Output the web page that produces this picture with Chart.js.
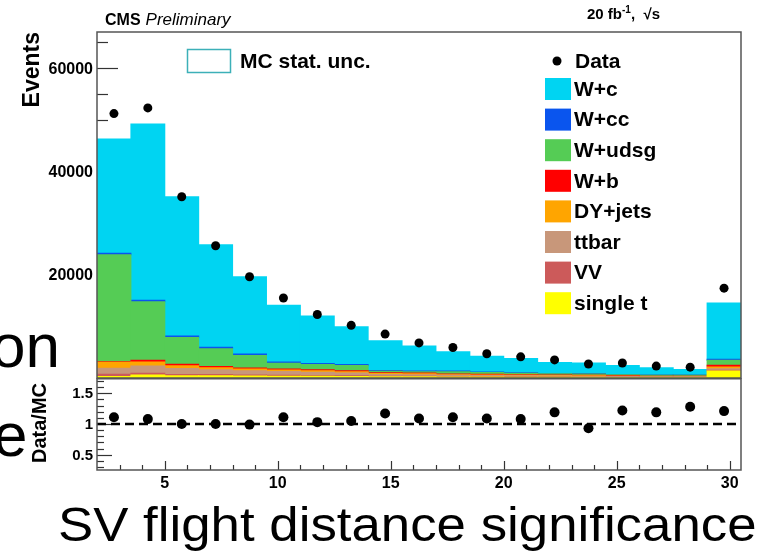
<!DOCTYPE html>
<html>
<head>
<meta charset="utf-8">
<script src="https://cdn.jsdelivr.net/npm/chart.js@4.4.1/dist/chart.umd.min.js"></script>
<style>
  body { margin: 0; background: #fff; }
  #wrap { position: relative; width: 770px; height: 555px; overflow: hidden; font-family: "Liberation Sans", Arial, sans-serif; }
  canvas { position: absolute; left: 0; }
  .slide { position: absolute; color: #000; white-space: nowrap; line-height: 1; transform-origin: 0 0; }
</style>
</head>
<body>
<div id="wrap">
  <canvas id="top" width="770" height="379" style="top:0"></canvas>
  <canvas id="ratio" width="770" height="177" style="top:378px"></canvas>
  <div class="slide" style="left:-9px; top:315px; font-size:62px">on</div>
  <div class="slide" style="left:-7px; top:404px; font-size:62px">e</div>
  <div class="slide" style="left:58px; top:501px; font-size:48px; transform:scaleX(1.1)">SV flight distance significance</div>
</div>
<script>
// bins of 1.5 from 2 to 30.5 (last one is overflow)
const binCenters = [2.75, 4.25, 5.75, 7.25, 8.75, 10.25, 11.75, 13.25, 14.75, 16.25, 17.75, 19.25, 20.75, 22.25, 23.75, 25.25, 26.75, 28.25, 29.75];

// MC stack, bottom to top
const singleT = [300, 600, 450, 450, 400, 350, 350, 300, 250, 250, 200, 200, 150, 150, 150, 100, 100, 100, 1350];
const vv = [450, 300, 250, 250, 200, 200, 150, 150, 100, 100, 100, 100, 80, 80, 60, 60, 50, 50, 150];
const ttbar = [1150, 1400, 1150, 900, 800, 700, 600, 500, 350, 300, 250, 200, 200, 150, 150, 120, 100, 100, 300];
const dyJets = [1150, 800, 500, 400, 350, 300, 300, 250, 150, 150, 100, 100, 100, 80, 80, 60, 50, 50, 350];
const wb = [100, 350, 300, 250, 200, 200, 200, 200, 150, 150, 120, 120, 100, 100, 80, 80, 60, 60, 300];
const wudsg = [20700, 11300, 5200, 3400, 2400, 1100, 1000, 1000, 300, 250, 450, 350, 300, 250, 250, 200, 150, 150, 1000];
const wcc = [300, 300, 300, 300, 300, 250, 200, 200, 150, 150, 120, 100, 100, 80, 80, 60, 50, 50, 200];
const wc = [22150, 34150, 26950, 19850, 14950, 11000, 9200, 7300, 5750, 4850, 3760, 3030, 2770, 2110, 2050, 1720, 1440, 1090, 10850];

const dataEvents = [51200, 52300, 35100, 25600, 19600, 15500, 12300, 10200, 8500, 6800, 5900, 4700, 4100, 3500, 2700, 2900, 2300, 2100, 17400];
const dataOverMC = [1.11, 1.08, 1.0, 1.0, 0.99, 1.11, 1.03, 1.05, 1.17, 1.09, 1.11, 1.09, 1.08, 1.19, 0.93, 1.22, 1.19, 1.28, 1.21];

const yTickLabels = [20000, 40000, 60000];
const ratioTickLabels = [0.5, 1, 1.5];
const xTickLabels = [5, 10, 15, 20, 25, 30];
const refLineX = [2, 30.5];
const refLineY = [1, 1];

const stackNames = ['single t', 'VV', 'ttbar', 'DY+jets', 'W+b', 'W+udsg', 'W+cc', 'W+c'];
const stackValues = [singleT, vv, ttbar, dyJets, wb, wudsg, wcc, wc];
const stackColors = ['#ffff00', '#cc5a5a', '#c8977a', '#ffa500', '#ff0000', '#55cc55', '#0a55ee', '#00d4f2'];

const FONT = '"Liberation Sans", Arial, sans-serif';
const pts = (xs, ys) => xs.map((x, i) => ({x: x, y: ys[i]}));
const binTicks = (axis) => { axis.ticks = binCenters.map(v => ({value: v})); };

const topDecor = {
  id: 'topDecor',
  beforeDatasetsDraw(chart) {
    const {ctx, chartArea: a, scales: {y}} = chart;
    ctx.save();
    ctx.strokeStyle = '#333';
    ctx.lineWidth = 1.2;
    for (let v = 5000; v <= 65000; v += 5000) {
      const py = Math.round(y.getPixelForValue(v)) + 0.5;
      const len = v % 20000 === 0 ? 21 : 11;
      ctx.beginPath(); ctx.moveTo(a.left, py); ctx.lineTo(a.left + len, py); ctx.stroke();
    }
    ctx.restore();
  },
  afterDatasetsDraw(chart) {
    const {ctx, chartArea: a, scales: {y}} = chart;
    ctx.save();
    ctx.strokeStyle = '#555';
    ctx.lineWidth = 1.5;
    ctx.strokeRect(a.left, a.top, a.right - a.left, a.bottom - a.top);

    ctx.fillStyle = '#000';
    ctx.font = 'bold 16px ' + FONT;
    ctx.textAlign = 'right';
    ctx.textBaseline = 'middle';
    yTickLabels.forEach(v => ctx.fillText(String(v), 93, y.getPixelForValue(v) + 1));

    // axis title
    ctx.save();
    ctx.translate(39, a.top);
    ctx.rotate(-Math.PI / 2);
    ctx.font = 'bold 23px ' + FONT;
    ctx.textAlign = 'right';
    ctx.textBaseline = 'alphabetic';
    ctx.fillText('Events', 0, 0);
    ctx.restore();

    // header
    ctx.textAlign = 'left';
    ctx.textBaseline = 'alphabetic';
    ctx.font = 'bold 16px ' + FONT;
    ctx.fillText('CMS', 105, 25);
    const cw = ctx.measureText('CMS').width;
    ctx.font = 'italic 17px ' + FONT;
    ctx.fillText('Preliminary', 105 + cw + 5, 25);

    ctx.font = 'bold 15px ' + FONT;
    let lx = 587;
    ctx.fillText('20 fb', lx, 19);
    lx += ctx.measureText('20 fb').width;
    ctx.font = 'bold 10px ' + FONT;
    ctx.fillText('-1', lx, 13);
    lx += ctx.measureText('-1').width;
    ctx.font = 'bold 15px ' + FONT;
    ctx.fillText(',  \u221As', lx, 19);

    // legends
    ctx.font = 'bold 21px ' + FONT;
    ctx.textBaseline = 'middle';
    ctx.strokeStyle = '#3cb0b8';
    ctx.lineWidth = 1.5;
    ctx.strokeRect(187.5, 49.5, 43, 23);
    ctx.fillText('MC stat. unc.', 240, 62);

    ctx.beginPath();
    ctx.arc(557, 61, 4.5, 0, Math.PI * 2);
    ctx.fill();
    ctx.fillText('Data', 575, 62);

    const rows = chart.data.datasets.filter(d => d.type !== 'line').slice().reverse();
    rows.forEach((d, i) => {
      const cy = 89 + i * 30.6;
      ctx.fillStyle = d.backgroundColor;
      ctx.fillRect(545, cy - 11, 26, 22);
      ctx.fillStyle = '#000';
      ctx.fillText(d.label, 574, cy + 1);
    });
    ctx.restore();
  }
};

const ratioDecor = {
  id: 'ratioDecor',
  beforeDatasetsDraw(chart) {
    const {ctx, chartArea: a, scales: {x, y}} = chart;
    ctx.save();
    ctx.strokeStyle = '#333';
    ctx.lineWidth = 1.2;
    for (let i = 3; i <= 17; i++) {
      const py = Math.round(y.getPixelForValue(i / 10)) + 0.5;
      const len = i % 5 === 0 ? 15 : 7;
      ctx.beginPath(); ctx.moveTo(a.left, py); ctx.lineTo(a.left + len, py); ctx.stroke();
    }
    for (let v = 3; v <= 30; v++) {
      const px = Math.round(x.getPixelForValue(v)) + 0.5;
      const len = v % 5 === 0 ? 9 : 5;
      ctx.beginPath(); ctx.moveTo(px, a.bottom); ctx.lineTo(px, a.bottom - len); ctx.stroke();
    }
    ctx.restore();
  },
  afterDatasetsDraw(chart) {
    const {ctx, chartArea: a, scales: {x, y}} = chart;
    ctx.save();
    ctx.strokeStyle = '#555';
    ctx.lineWidth = 1.5;
    ctx.strokeRect(a.left, a.top + 0.75, a.right - a.left, a.bottom - a.top - 0.75);

    ctx.fillStyle = '#000';
    ctx.font = 'bold 15px ' + FONT;
    ctx.textAlign = 'right';
    ctx.textBaseline = 'middle';
    ratioTickLabels.forEach(v => ctx.fillText(String(v), 93, y.getPixelForValue(v) + 1));

    ctx.font = 'bold 16px ' + FONT;
    ctx.textAlign = 'center';
    ctx.textBaseline = 'alphabetic';
    xTickLabels.forEach(v => ctx.fillText(String(v), x.getPixelForValue(v), 110));

    ctx.save();
    ctx.translate(46, 5);
    ctx.rotate(-Math.PI / 2);
    ctx.font = 'bold 20px ' + FONT;
    ctx.textAlign = 'right';
    ctx.fillText('Data/MC', 0, 0);
    ctx.restore();
    ctx.restore();
  }
};

const stackSets = stackNames.map((name, i) => ({
  label: name,
  data: pts(binCenters, stackValues[i]),
  backgroundColor: stackColors[i],
  borderWidth: 0
}));

new Chart(document.getElementById('top'), {
  type: 'bar',
  data: {
    datasets: stackSets.concat([{
      type: 'line',
      label: 'Data',
      data: pts(binCenters, dataEvents),
      showLine: false,
      pointRadius: 4.5,
      pointBackgroundColor: '#000',
      pointBorderWidth: 0,
      order: -1
    }])
  },
  options: {
    responsive: false,
    animation: false,
    devicePixelRatio: 1,
    layout: {autoPadding: false, padding: {left: 97, right: 29, top: 32, bottom: 1}},
    datasets: {bar: {barPercentage: 1, categoryPercentage: 1, inflateAmount: 0.5}},
    scales: {
      x: {type: 'linear', min: 2, max: 30.5, offset: false, display: false, stacked: true, afterBuildTicks: binTicks},
      y: {min: 0, max: 67000, display: false, stacked: true}
    },
    plugins: {legend: {display: false}, tooltip: {enabled: false}}
  },
  plugins: [topDecor]
});

new Chart(document.getElementById('ratio'), {
  type: 'line',
  data: {
    datasets: [{
      label: 'Data/MC',
      data: pts(binCenters, dataOverMC),
      showLine: false,
      pointRadius: 5,
      pointBackgroundColor: '#000',
      pointBorderWidth: 0
    }, {
      label: 'one',
      data: pts(refLineX, refLineY),
      borderColor: '#000',
      borderWidth: 2.5,
      borderDash: [9, 5],
      pointRadius: 0
    }]
  },
  options: {
    responsive: false,
    animation: false,
    devicePixelRatio: 1,
    layout: {autoPadding: false, padding: {left: 97, right: 29, top: 0, bottom: 85}},
    scales: {
      x: {type: 'linear', min: 2, max: 30.5, display: false},
      y: {min: 0.25, max: 1.75, display: false}
    },
    plugins: {legend: {display: false}, tooltip: {enabled: false}}
  },
  plugins: [ratioDecor]
});
</script>
</body>
</html>
